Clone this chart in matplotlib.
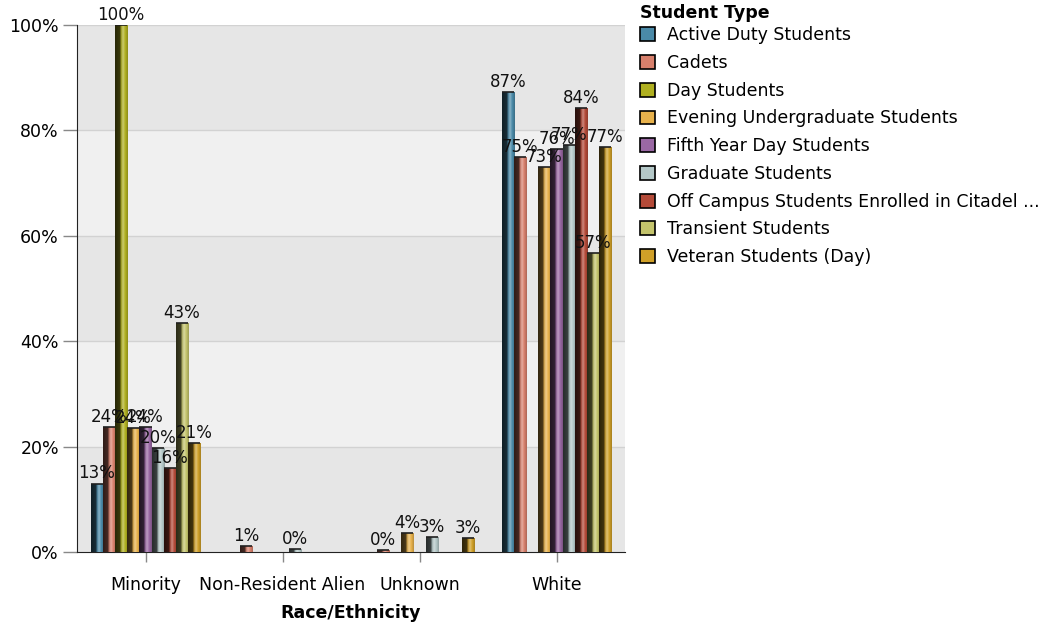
import numpy as np
import matplotlib
matplotlib.use("Agg")
import matplotlib.pyplot as plt
from matplotlib.colors import LinearSegmentedColormap, to_rgb
from matplotlib.patches import Patch

# Categories and series (percent of students), nan = no bar
categories = ['Minority', 'Non-Resident Alien', 'Unknown', 'White']
series_names = ['Active Duty Students', 'Cadets', 'Day Students',
                'Evening Undergraduate Students', 'Fifth Year Day Students',
                'Graduate Students', 'Off Campus Students Enrolled in Citadel ...',
                'Transient Students', 'Veteran Students (Day)']
nan = np.nan
active_duty = [13.0, nan, nan, 87.2]
cadets = [23.7, 1.1, 0.4, 75.0]
day_students = [100.0, nan, nan, nan]
evening = [23.6, nan, 3.6, 73.0]
fifth_year = [23.7, nan, nan, 76.4]
graduate = [19.7, 0.5, 2.8, 77.2]
off_campus = [16.0, nan, nan, 84.2]
transient = [43.4, nan, nan, 56.7]
veteran = [20.7, nan, 2.6, 76.9]
values = [active_duty, cadets, day_students, evening, fifth_year,
          graduate, off_campus, transient, veteran]
colors = ['#4a8aa8', '#d8806c', '#b0b020', '#e8b24c', '#9a68a4',
          '#b4c8c8', '#b44a38', '#c4c46c', '#d0a028']

plt.rcParams['font.family'] = ['DejaVu Sans']
fig = plt.figure(figsize=(10.41, 6.27), dpi=100)
ax = fig.add_axes([0.074, 0.1196, 0.5264, 0.8405])

# alternating background bands
for i, y0 in enumerate(range(0, 100, 20)):
    ax.axhspan(y0, y0 + 20, color='#e6e6e6' if i % 2 == 0 else '#f0f0f0', zorder=0, lw=0)
for y in range(20, 101, 20):
    ax.axhline(y, color='#d2d2d2', lw=1, zorder=0.5)


def bar_cmap(c):
    r = np.array(to_rgb(c))
    light = r + (1 - r) * 0.35
    stops = [(0.0, r * 0.22), (0.38, r * 0.32), (0.46, r * 0.85),
             (0.62, light), (0.8, r), (1.0, r * 0.8)]
    return LinearSegmentedColormap.from_list('b', [(p, tuple(np.clip(v, 0, 1))) for p, v in stops])


x = np.arange(len(categories))
n = len(series_names)
w = 0.8 / n
grad = np.linspace(0, 1, 64).reshape(1, -1)
for i, (vals, c) in enumerate(zip(values, colors)):
    xs = x - 0.4 + w * (i + 0.5)
    bars = ax.bar(xs, vals, width=w, color=c, zorder=2, lw=0)
    cm = bar_cmap(c)
    for b, v in zip(bars, vals):
        if np.isnan(v):
            continue
        x0, x1 = b.get_x(), b.get_x() + b.get_width()
        im = ax.imshow(grad, cmap=cm, extent=[x0, x1, 0, v], aspect='auto', zorder=3)
        im.set_clip_path(b)
        ax.plot([x0, x1], [v, v], color='#202020', lw=1.2, zorder=4, solid_capstyle='butt')
        ax.text(b.get_x() + w / 2, v + 0.2, f"{v:.0f}%", ha='center', va='bottom',
                fontsize=12, color='#111111', zorder=5)

ax.set_xlim(-0.5, len(categories) - 0.5)
ax.set_ylim(0, 100)
ax.set_yticks(range(0, 101, 20))
ax.set_yticklabels([f"{t}%" for t in range(0, 101, 20)], fontsize=12.5)
ax.set_xticks(x)
ax.set_xticklabels(categories, fontsize=12.5)
ax.tick_params(axis='y', length=10, color='#888888', width=1, pad=3)
ax.tick_params(axis='x', length=7, color='#888888', width=1, pad=10.5)
for s in ['top', 'right']:
    ax.spines[s].set_visible(False)
ax.spines['left'].set_color('#222222')
ax.spines['bottom'].set_color('#222222')
ax.set_xlabel('Race/Ethnicity', fontsize=12.5, fontweight='bold', labelpad=7)

handles = [Patch(facecolor=c, edgecolor='black', lw=1.2) for c in colors]
leg = fig.legend(handles, series_names, loc='upper left', bbox_to_anchor=(0.605, 1.01),
                 frameon=False, fontsize=12.5, title='Student Type',
                 title_fontproperties={'weight': 'bold', 'size': 12.5},
                 handlelength=0.85, handleheight=0.85, handletextpad=0.7,
                 labelspacing=0.56, borderaxespad=0.2)
leg._legend_box.align = 'left'
leg._legend_box.sep = 3

fig.savefig('out.png', dpi=100)
